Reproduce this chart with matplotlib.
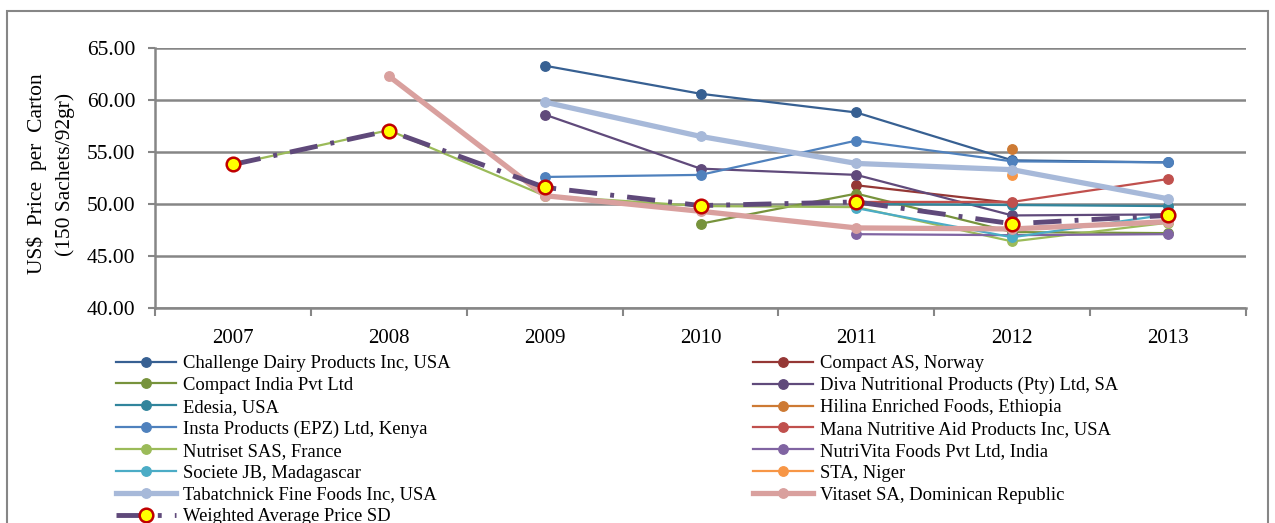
import numpy as np
import matplotlib
matplotlib.use("Agg")
import matplotlib.pyplot as plt
from matplotlib.patches import Rectangle

nan = np.nan
years = ["2007", "2008", "2009", "2010", "2011", "2012", "2013"]

challenge = [nan, nan, 63.3, 60.6, 58.8, 54.2, 54.0]
compact_as = [nan, nan, nan, nan, 51.8, 50.1, nan]
compact_india = [nan, nan, nan, 48.1, 51.0, 47.3, 47.2]
diva = [nan, nan, 58.6, 53.4, 52.8, 48.9, 49.0]
edesia = [nan, nan, nan, nan, 50.0, 49.9, 49.8]
hilina = [nan, nan, nan, nan, nan, 55.3, nan]
insta = [nan, nan, 52.6, 52.8, 56.1, 54.1, 54.0]
mana = [nan, nan, nan, nan, 50.2, 50.2, 52.4]
nutriset = [53.8, 57.1, 50.8, 49.8, 49.7, 46.4, 48.2]
nutrivita = [nan, nan, nan, nan, 47.1, 47.0, 47.1]
societe = [nan, nan, nan, nan, 49.6, 46.8, 49.0]
sta = [nan, nan, nan, nan, nan, 52.8, nan]
tabatchnick = [nan, nan, 59.8, 56.5, 53.9, 53.3, 50.5]
vitaset = [nan, 62.3, 50.8, 49.3, 47.7, 47.6, 48.3]
weighted = [53.8, 57.05, 51.6, 49.85, 50.2, 48.1, 48.9]

series = [
    ("Challenge Dairy Products Inc, USA", challenge, "#376092", 1.6),
    ("Compact AS, Norway", compact_as, "#953735", 1.6),
    ("Compact India Pvt Ltd", compact_india, "#77933C", 1.6),
    ("Diva Nutritional Products (Pty) Ltd, SA", diva, "#604A7B", 1.6),
    ("Edesia, USA", edesia, "#31859C", 1.6),
    ("Hilina Enriched Foods, Ethiopia", hilina, "#CD7A34", 1.6),
    ("Insta Products (EPZ) Ltd, Kenya", insta, "#4F81BD", 1.6),
    ("Mana Nutritive Aid Products Inc, USA", mana, "#C0504D", 1.6),
    ("Nutriset SAS, France", nutriset, "#9BBB59", 1.6),
    ("NutriVita Foods Pvt Ltd, India", nutrivita, "#8064A2", 1.6),
    ("Societe JB, Madagascar", societe, "#4BACC6", 1.6),
    ("STA, Niger", sta, "#F79646", 1.6),
    ("Tabatchnick Fine Foods Inc, USA", tabatchnick, "#A7B9D9", 3.8),
    ("Vitaset SA, Dominican Republic", vitaset, "#D9A09E", 3.8),
]
wlabel = "Weighted Average Price SD"

plt.rcParams['font.family'] = ['Liberation Serif', 'DejaVu Serif']

W, H = 1275, 523
fig = plt.figure(figsize=(W / 100, H / 100), dpi=100)
fig.patch.set_facecolor("white")
fig.patches.append(Rectangle((7 / W, -0.05), (1268 - 7) / W, 1 - 11 / H + 0.05,
                             transform=fig.transFigure, fill=False,
                             edgecolor="#868686", lw=1.5))

ax = fig.add_axes([155 / W, 1 - 308 / H, (1246 - 155) / W, (308 - 48) / H])
x = np.arange(len(years))

handles = {}
for name, vals, col, lw in series:
    v = np.array(vals, dtype=float)
    h, = ax.plot(x, v, color=col, lw=lw, marker="o", ms=6.8,
                 markerfacecolor=col, markeredgecolor=col, label=name, zorder=3)
    handles[name] = h

wv = np.array(weighted, dtype=float)
hw, = ax.plot(x, wv, color="#5F497A", lw=3.5, dashes=(5.8, 2.7, 0.8, 2.7),
              marker="o", ms=9.8, markerfacecolor="#FFFF00",
              markeredgecolor="#C00000", markeredgewidth=1.8, label=wlabel, zorder=4)
handles[wlabel] = hw

ax.set_xlim(-0.5, len(years) - 0.5)
ax.set_ylim(40, 65)
ax.set_yticks(np.arange(40, 65.1, 5))
ax.set_yticklabels([f"{t:.2f}" for t in np.arange(40, 65.1, 5)])
ax.set_xticks(x)
ax.set_xticklabels(years)
ax.set_xticks(np.arange(-0.5, len(years)), minor=True)
ax.tick_params(axis="x", which="major", length=0, pad=15, labelsize=15)
ax.tick_params(axis="x", which="minor", length=6, width=1.5, color="#868686", direction="out")
ax.tick_params(axis="y", length=5, width=1.5, color="#868686", pad=9, labelsize=15.5)
ax.grid(axis="y", color="#868686", lw=1.8, zorder=0)
ax.set_axisbelow(True)
for s in ["top", "right"]:
    ax.spines[s].set_visible(False)
for s in ["left", "bottom"]:
    ax.spines[s].set_color("#868686")
    ax.spines[s].set_linewidth(1.8)

fig.text(37 / W, 1 - 174 / H, "US$  Price  per  Carton",
         rotation=90, ha="center", va="center", fontsize=15.5)
fig.text(65 / W, 1 - 174 / H, "(150 Sachets/92gr)",
         rotation=90, ha="center", va="center", fontsize=15.5)

names = [s[0] for s in series] + [wlabel]
left = names[0::2]
right = names[1::2]

leg_kw = dict(frameon=False, fontsize=13.4, labelspacing=0.26, handlelength=3.2,
              handletextpad=0.4, borderpad=0, borderaxespad=0)
leg1 = fig.legend([handles[n] for n in left], left, loc="upper left",
                  bbox_to_anchor=(116 / W, 1 - 355 / H), **leg_kw)
leg2 = fig.legend([handles[n] for n in right], right, loc="upper left",
                  bbox_to_anchor=(753 / W, 1 - 355 / H), **leg_kw)

fig.savefig("out.png", dpi=100)
